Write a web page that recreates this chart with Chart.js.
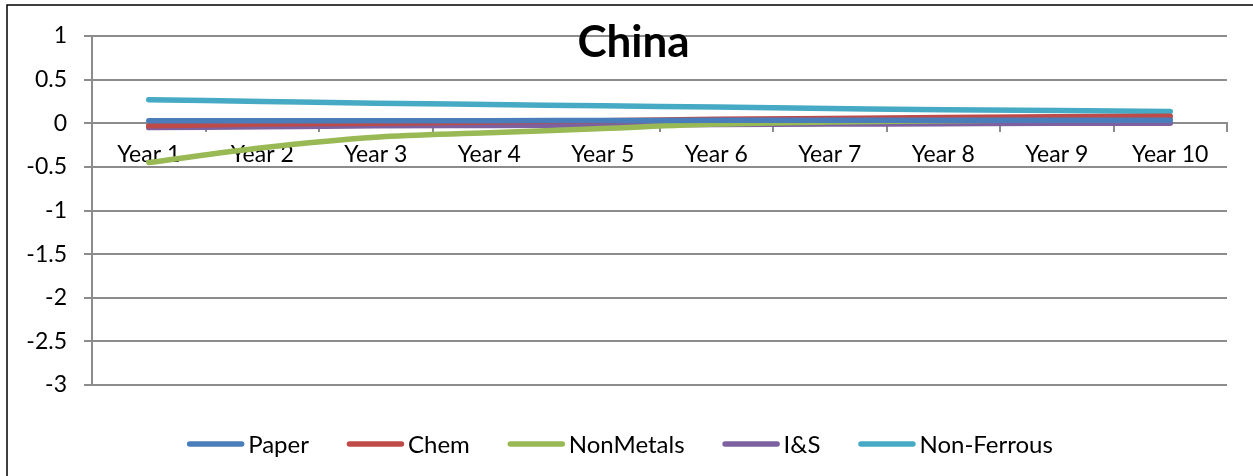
<!DOCTYPE html>
<html>
<head>
<meta charset="utf-8">
<script src="https://cdn.jsdelivr.net/npm/chart.js@4/dist/chart.umd.min.js"></script>
<style>
  html, body { margin: 0; padding: 0; background: #fff; }
  #wrap { width: 1253px; height: 476px; position: relative; }
</style>
</head>
<body>
<div id="wrap"><canvas id="c" width="1253" height="476"></canvas></div>
<script>
// Categories and series
const years = ['Year 1', 'Year 2', 'Year 3', 'Year 4', 'Year 5', 'Year 6', 'Year 7', 'Year 8', 'Year 9', 'Year 10'];
const paper      = [0.03, 0.03, 0.03, 0.03, 0.032, 0.033, 0.034, 0.035, 0.035, 0.035];
const chem       = [-0.03, -0.01, 0.0, 0.015, 0.03, 0.045, 0.055, 0.065, 0.075, 0.08];
const nonMetals  = [-0.45, -0.28, -0.16, -0.11, -0.06, -0.01, 0.015, 0.03, 0.04, 0.045];
const ironSteel  = [-0.05, -0.04, -0.03, -0.025, -0.02, -0.015, -0.01, -0.005, 0.0, 0.0];
const nonFerrous = [0.27, 0.25, 0.23, 0.215, 0.2, 0.185, 0.17, 0.155, 0.145, 0.135];

const seriesNames = ['Paper', 'Chem', 'NonMetals', 'I&S', 'Non-Ferrous'];
const seriesData = [paper, chem, nonMetals, ironSteel, nonFerrous];
const seriesColors = ['#4A7EBB', '#BE4B48', '#98B954', '#7D60A0', '#46AAC5'];

const chartTitle = 'China';
const yMin = -3, yMax = 1, yStep = 0.5;

const FONT = 'Lato, "Open Sans", sans-serif';
const GRID = '#8c8c8c';

const datasets = seriesNames.map((name, i) => ({
  label: name,
  data: seriesData[i],
  borderColor: seriesColors[i],
  backgroundColor: seriesColors[i],
  borderWidth: 5.5,
  borderCapStyle: 'round',
  borderJoinStyle: 'round',
  pointRadius: 0,
  cubicInterpolationMode: 'monotone',
  fill: false
}));

// White background plus the chart frame's top and left edges
const framePlugin = {
  id: 'frame',
  beforeDraw(chart) {
    const ctx = chart.ctx;
    ctx.save();
    ctx.fillStyle = '#fff';
    ctx.fillRect(0, 0, chart.width, chart.height);
    ctx.strokeStyle = '#000';
    ctx.lineWidth = 1.5;
    ctx.beginPath();
    ctx.moveTo(7, chart.height);
    ctx.lineTo(7, 5);
    ctx.lineTo(chart.width, 5);
    ctx.stroke();
    ctx.restore();
  }
};

// Title drawn over the top of the plot area
const titlePlugin = {
  id: 'overTitle',
  afterDraw(chart) {
    const ctx = chart.ctx;
    ctx.save();
    ctx.font = 'bold 44px ' + FONT;
    ctx.fillStyle = '#000';
    ctx.textAlign = 'center';
    ctx.textBaseline = 'alphabetic';
    ctx.fillText(chartTitle, chart.width / 2 + 7, 57);
    ctx.restore();
  }
};

// Legend row under the plot: line sample followed by the series name
const legendPlugin = {
  id: 'lineLegend',
  afterDraw(chart) {
    const ctx = chart.ctx;
    const sample = 57, gapText = 4, gapItem = 38;
    ctx.save();
    ctx.font = '24px ' + FONT;
    ctx.textBaseline = 'middle';
    ctx.textAlign = 'left';
    const items = chart.data.datasets.map(ds => ({
      label: ds.label, color: ds.borderColor, w: ctx.measureText(ds.label).width
    }));
    let total = 0;
    items.forEach((it, i) => { total += sample + gapText + it.w + (i < items.length - 1 ? gapItem : 0); });
    let x = 620 - total / 2;
    const y = 444;
    items.forEach(it => {
      ctx.strokeStyle = it.color;
      ctx.lineWidth = 5.5;
      ctx.lineCap = 'round';
      ctx.beginPath();
      ctx.moveTo(x + 2.5, y);
      ctx.lineTo(x + sample - 2.5, y);
      ctx.stroke();
      ctx.fillStyle = '#000';
      ctx.fillText(it.label, x + sample + gapText, y + 1);
      x += sample + gapText + it.w + gapItem;
    });
    ctx.restore();
  }
};

new Chart(document.getElementById('c'), {
  type: 'line',
  data: { labels: years, datasets },
  options: {
    responsive: false,
    animation: false,
    layout: { padding: { top: 36, right: 26, bottom: 91, left: 0 } },
    plugins: {
      legend: { display: false },
      title: { display: false },
      tooltip: { enabled: false }
    },
    scales: {
      x: {
        type: 'category',
        position: { y: 0 },
        offset: true,
        grid: {
          offset: true,
          drawOnChartArea: false,
          drawTicks: true,
          tickLength: 8,
          color: GRID,
          lineWidth: 2
        },
        border: { display: true, color: GRID, width: 2 },
        ticks: {
          color: '#000',
          font: { family: FONT, size: 23 },
          padding: 10,
          maxRotation: 0,
          autoSkip: false
        }
      },
      y: {
        min: yMin,
        max: yMax,
        afterFit(scale) { scale.width = 92; },
        grid: {
          color: GRID,
          lineWidth: 2,
          drawTicks: true,
          tickLength: 8
        },
        border: { display: true, color: GRID, width: 2 },
        ticks: {
          stepSize: yStep,
          color: '#000',
          font: { family: FONT, size: 23 },
          padding: 17,
          callback: v => String(v)
        }
      }
    }
  },
  plugins: [framePlugin, titlePlugin, legendPlugin]
});
</script>
</body>
</html>
